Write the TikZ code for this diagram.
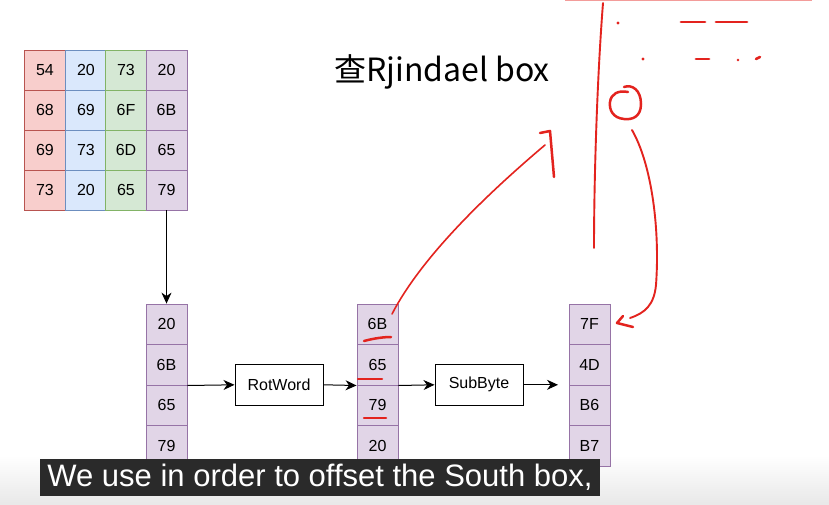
\documentclass[tikz,border=0pt]{standalone}
\usepackage{fontspec}
\setmainfont{Liberation Sans}
\newfontfamily\cjkfont{Noto Sans CJK SC}
\usetikzlibrary{arrows.meta}
\definecolor{redF}{HTML}{F8CECC}\definecolor{redS}{HTML}{B85450}
\definecolor{bluF}{HTML}{DAE8FC}\definecolor{bluS}{HTML}{6C8EBF}
\definecolor{grnF}{HTML}{D5E8D4}\definecolor{grnS}{HTML}{82B366}
\definecolor{purF}{HTML}{E1D5E7}\definecolor{purS}{HTML}{9673A6}
\definecolor{pen}{HTML}{E3231E}
\definecolor{pendark}{HTML}{8B1010}
\definecolor{capbg}{HTML}{2A2A2A}
\newcommand{\cf}{\fontsize{16}{18}\selectfont}
\tikzset{
  cell/.style={draw, line width=0.9pt, minimum width=41pt, minimum height=40pt, inner sep=0pt, font=\cf},
  rcell/.style={cell, fill=redF, draw=redS},
  bcell/.style={cell, fill=bluF, draw=bluS},
  gcell/.style={cell, fill=grnF, draw=grnS},
  pcell/.style={cell, fill=purF, draw=purS},
  vcell/.style={pcell, minimum height=40.5pt},
  opbox/.style={draw, line width=1pt, fill=white, minimum width=88pt, minimum height=41pt, inner sep=0pt, font=\cf},
  conn/.style={line width=1pt, -{Stealth[length=11pt,width=10pt,inset=3.5pt]}},
  ink/.style={draw=pen, line width=2.5pt, line cap=round, line join=round},
}
\begin{document}
\begin{tikzpicture}[x=1pt,y=-1pt]
\useasboundingbox (0,0) rectangle (829,505);
\fill[white] (0,0) rectangle (829,505);
\shade[top color=white, bottom color=black!9] (0,455) rectangle (829,505);
% top faint line
\draw[pen!45, line width=1.2pt] (565,0.6) -- (812,0.6);

% state matrix
\foreach \c/\st/\x in {1/rcell/45, 2/bcell/86, 3/gcell/126, 4/pcell/166.5}{
  \foreach \r/\y in {1/70, 2/110, 3/150, 4/190}{
    \node[\st] (m\r\c) at (\x,\y) {};
  }
}
\node[font=\cf] at (m11) {54};
\node[font=\cf] at (m21) {68};
\node[font=\cf] at (m31) {69};
\node[font=\cf] at (m41) {73};
\node[font=\cf] at (m12) {20};
\node[font=\cf] at (m22) {69};
\node[font=\cf] at (m32) {73};
\node[font=\cf] at (m42) {20};
\node[font=\cf] at (m13) {73};
\node[font=\cf] at (m23) {6F};
\node[font=\cf] at (m33) {6D};
\node[font=\cf] at (m43) {65};
\node[font=\cf] at (m14) {20};
\node[font=\cf] at (m24) {6B};
\node[font=\cf] at (m34) {65};
\node[font=\cf] at (m44) {79};

% word columns
\node[vcell] (a1) at (166.5,324.3) {20};
\node[vcell] (a2) at (166.5,364.8) {6B};
\node[vcell] (a3) at (166.5,405.3) {65};
\node[vcell] (a4) at (166.5,445.8) {79};

\node[vcell] (b1) at (377.5,324.3) {6B};
\node[vcell] (b2) at (377.5,364.8) {65};
\node[vcell] (b3) at (377.5,405.3) {79};
\node[vcell] (b4) at (377.5,445.8) {20};

\node[vcell] (c1) at (589.5,324.3) {7F};
\node[vcell] (c2) at (589.5,364.8) {4D};
\node[vcell] (c3) at (589.5,405.3) {B6};
\node[vcell] (c4) at (589.5,445.8) {B7};

\node[opbox] (rot) at (279,384.8) {RotWord};
\node[opbox] (sub) at (479,384.8) {SubByte};
\coordinate (cin) at (558,384.8);

\draw[conn] (m44.south) -- (a1.north);
\draw[conn] (a2.south east) -- (rot.west);
\draw[conn] (rot.east) -- (b2.south west);
\draw[conn] (b2.south east) -- (sub.west);
\draw[conn] (sub.east) -- (cin);

% title
\node[font=\cjkfont\fontsize{32}{36}\selectfont, anchor=center] (title) at (442,72) {查Rjindael box};

% handwritten annotations
\draw[ink, line width=1.6pt] (392,314) .. controls (420,260) and (480,200) .. (545,145);
\draw[ink] (540,133) -- (550,131) -- (554,177);
\draw[ink] (364,341) .. controls (375,338) and (385,337) .. (391,337);
\draw[ink] (358,379) -- (382,379);
\draw[ink] (364,418) -- (386,418);
\draw[ink, draw=pendark] (366,462) -- (386,462);
\draw[ink, line width=1.9pt] (603,3) .. controls (597,80) and (594,180) .. (594,248);
\fill[pen] (618,23) circle (1.7pt);
\draw[ink, line width=2.8pt] (681,22) -- (705,22);
\draw[ink, line width=2.8pt] (716,22) -- (747,22);
\fill[pen] (643,59) circle (1.7pt);
\draw[ink, line width=2.8pt] (696,59) -- (709,59);
\fill[pen] (738,60) circle (1.3pt);
\draw[ink] (756,59) -- (760,57);
\draw[ink] (624,87) .. controls (632,84) and (641,90) .. (641,104)
  .. controls (641,117) and (632,120) .. (624,119)
  .. controls (613,118) and (609,110) .. (610,102)
  .. controls (611,94) and (618,90) .. (628,92);
\draw[ink, line width=1.9pt] (632,130) .. controls (652,165) and (660,230) .. (656,285)
  .. controls (654,305) and (645,313) .. (630,318);
\draw[ink] (623,316) -- (617,323) -- (633,327);

% caption overlay
\node[fill=capbg, text=white, minimum width=560pt, minimum height=37pt, inner sep=0pt,
      font=\fontsize{31}{34}\selectfont] (cap) at (320,477.5) {We use in order to offset the South box,};
\end{tikzpicture}
\end{document}
